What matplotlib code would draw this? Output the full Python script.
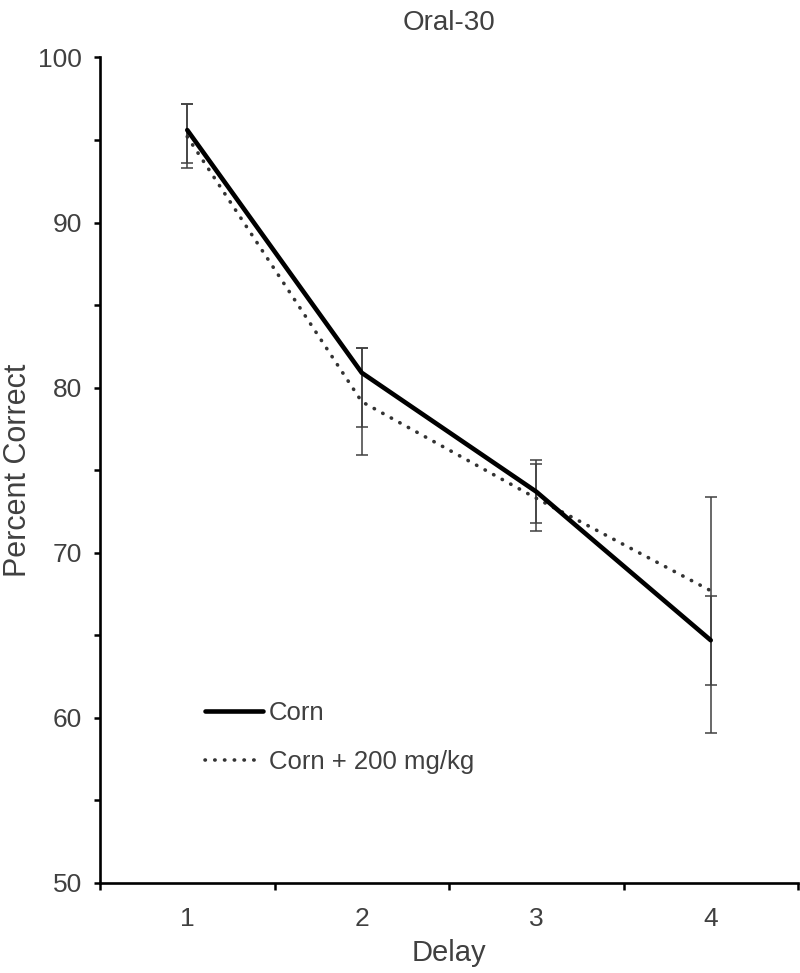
import numpy as np
import matplotlib
matplotlib.use("Agg")
import matplotlib.pyplot as plt
from matplotlib.ticker import MultipleLocator, FixedLocator, NullFormatter

plt.rcParams['font.family'] = ['Liberation Sans', 'DejaVu Sans']

# values
delay = [1, 2, 3, 4]
corn = [95.6, 80.9, 73.7, 64.7]
corn_lo = [2.3, 3.3, 1.9, 5.6]
corn_hi = [1.6, 1.5, 1.9, 2.7]
drug = [95.2, 79.15, 73.3, 67.7]
drug_lo = [1.6, 3.25, 2.0, 5.7]
drug_hi = [2.0, 3.25, 2.1, 5.7]

grey = '#404040'

fig = plt.figure(figsize=(8, 9.73), dpi=100)
ax = fig.add_axes([0.125, 0.0925, 0.8725, 0.8485])

ax.errorbar(delay, corn, yerr=[corn_lo, corn_hi], fmt='none', ecolor=grey,
            elinewidth=1.1, capsize=4, capthick=1.1, zorder=2)
ax.errorbar(delay, drug, yerr=[drug_lo, drug_hi], fmt='none', ecolor=grey,
            elinewidth=1.1, capsize=4, capthick=1.1, zorder=2)

ax.plot(delay, corn, color='black', lw=3.3, solid_capstyle='round',
        solid_joinstyle='round', label='Corn', zorder=4)
ax.plot(delay, drug, color='#333333', lw=2.6, linestyle=(0, (0.1, 2.6)),
        dash_capstyle='round', label='Corn + 200 mg/kg', zorder=3)

ax.set_xlim(0.5, 4.5)
ax.set_ylim(50, 100)

ax.xaxis.set_major_locator(FixedLocator([0.5, 1.5, 2.5, 3.5, 4.5]))
ax.xaxis.set_major_formatter(NullFormatter())
ax.set_xticks(delay, minor=True)
ax.set_xticklabels([str(d) for d in delay], minor=True)
ax.tick_params(axis='x', which='major', direction='out', length=5, width=1.8, color='black')
ax.tick_params(axis='x', which='minor', length=0, pad=17, labelsize=19, labelcolor=grey)

ax.yaxis.set_major_locator(MultipleLocator(10))
ax.yaxis.set_minor_locator(MultipleLocator(5))
ax.tick_params(axis='y', which='both', direction='out', length=4, width=1.8,
               color='black', pad=9, labelsize=19, labelcolor=grey)

for s in ['top', 'right']:
    ax.spines[s].set_visible(False)
for s in ['left', 'bottom']:
    ax.spines[s].set_linewidth(1.9)

ax.set_xlabel('Delay', fontsize=21, color=grey, labelpad=6)
ax.set_ylabel('Percent Correct', fontsize=22, color=grey, labelpad=4)
ax.set_title('Oral-30', fontsize=20, color=grey, pad=20)

leg = ax.legend(loc='center left', bbox_to_anchor=(0.15, 0.176), frameon=False,
                fontsize=18.5, handlelength=2.25, handletextpad=0.25,
                labelspacing=0.95, borderpad=0, borderaxespad=0)
for t in leg.get_texts():
    t.set_color(grey)

fig.savefig('out.png', dpi=100)
